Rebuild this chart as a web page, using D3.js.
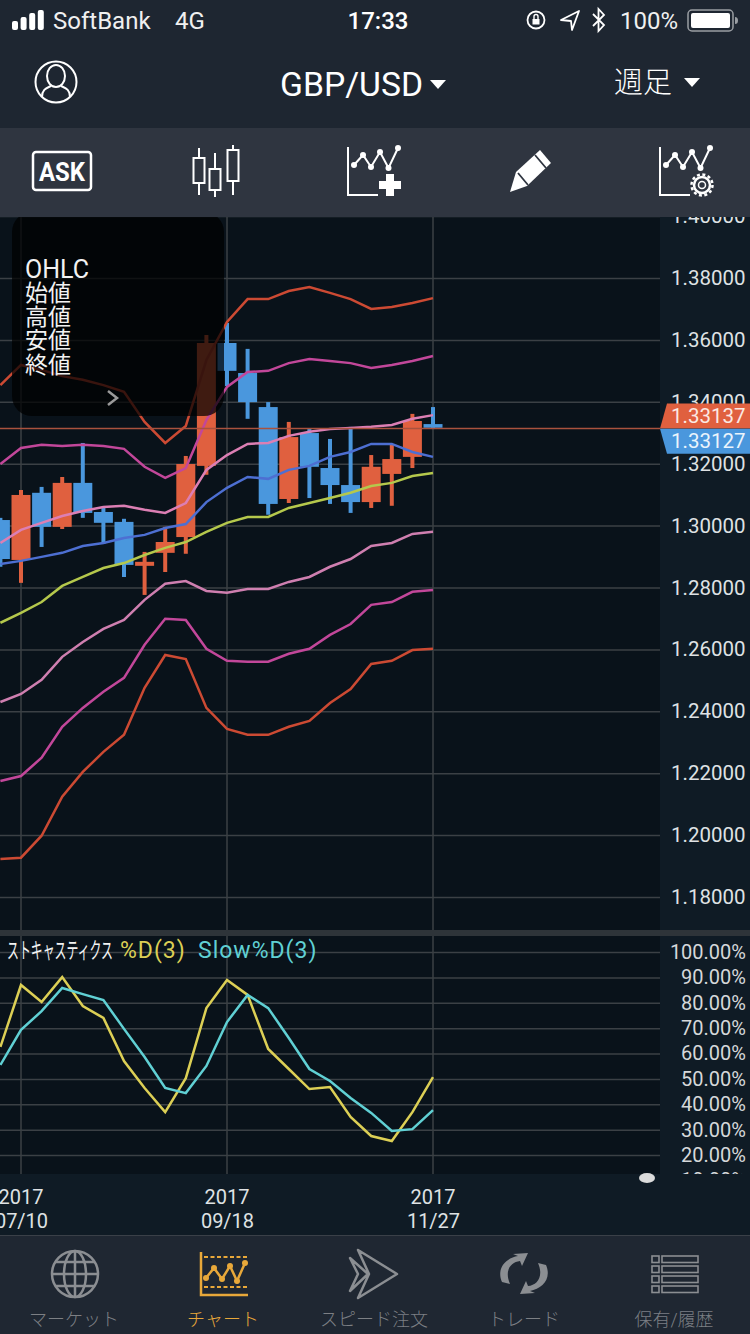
<!DOCTYPE html>
<html>
<head>
<meta charset="utf-8">
<script src="https://d3js.org/d3.v7.min.js"></script>
<style>
  html, body { margin: 0; padding: 0; background: #1f2732; }
  svg { display: block; }
  text { font-family: Roboto, "Noto Sans CJK JP", sans-serif; }
  .grid line { stroke: #3b4045; stroke-width: 1.5; }
</style>
</head>
<body>
<div id="chart"></div>
<script>
// weekly candles, orange = up, blue = down
var weeks = ["07/03","07/10","07/17","07/24","07/31","08/07","08/14","08/21","08/28","09/04","09/11","09/18","09/25","10/02","10/09","10/16","10/23","10/30","11/06","11/13","11/20","11/27"];
var open  = [1.3018,1.2889,1.3106,1.2996,1.3138,1.3044,1.3012,1.2870,1.2912,1.2963,1.3193,1.3590,1.3493,1.3383,1.3086,1.3299,1.3186,1.3131,1.3076,1.3167,1.3222,1.3328];
var high  = [1.3025,1.3115,1.3125,1.3157,1.3267,1.3057,1.3022,1.2915,1.2996,1.3225,1.3616,1.3655,1.3571,1.3399,1.3335,1.3312,1.3280,1.3319,1.3228,1.3261,1.3361,1.3383];
var low   = [1.2867,1.2815,1.2931,1.2989,1.3025,1.2941,1.2834,1.2776,1.2850,1.2909,1.3164,1.3451,1.3345,1.3035,1.3073,1.3089,1.3070,1.3041,1.3057,1.3064,1.3186,1.3312];
var close = [1.2892,1.3099,1.2996,1.3138,1.3041,1.3009,1.2873,1.2883,1.2947,1.3199,1.3590,1.3500,1.3399,1.3070,1.3286,1.3190,1.3131,1.3076,1.3190,1.3215,1.3338,1.3316];

var bandUp3 = [1.3454,1.3519,1.3503,1.3483,1.3471,1.3454,1.3432,1.3335,1.3267,1.3322,1.3535,1.3658,1.3732,1.3732,1.3758,1.3771,1.3752,1.3732,1.3700,1.3706,1.3719,1.3735];
var bandUp2 = [1.3199,1.3251,1.3261,1.3257,1.3261,1.3257,1.3248,1.3190,1.3154,1.3186,1.3341,1.3448,1.3496,1.3500,1.3525,1.3538,1.3532,1.3525,1.3509,1.3519,1.3532,1.3548];
var bandUp1 = [1.2944,1.2986,1.3009,1.3031,1.3047,1.3060,1.3064,1.3051,1.3041,1.3073,1.3180,1.3228,1.3264,1.3267,1.3290,1.3303,1.3312,1.3315,1.3319,1.3325,1.3345,1.3357];
var maFast  = [1.2876,1.2886,1.2899,1.2912,1.2934,1.2944,1.2960,1.2970,1.2992,1.3005,1.3076,1.3122,1.3157,1.3151,1.3180,1.3193,1.3222,1.3238,1.3264,1.3264,1.3238,1.3222];
var maSlow  = [1.2686,1.2718,1.2753,1.2805,1.2834,1.2863,1.2879,1.2905,1.2928,1.2947,1.2980,1.3009,1.3028,1.3028,1.3057,1.3073,1.3089,1.3106,1.3128,1.3138,1.3160,1.3170];
var bandLo1 = [1.2430,1.2456,1.2502,1.2576,1.2624,1.2666,1.2695,1.2760,1.2812,1.2821,1.2789,1.2783,1.2795,1.2795,1.2818,1.2834,1.2867,1.2892,1.2934,1.2944,1.2973,1.2980];
var bandLo2 = [1.2175,1.2191,1.2250,1.2350,1.2411,1.2463,1.2508,1.2615,1.2699,1.2695,1.2602,1.2563,1.2560,1.2560,1.2586,1.2602,1.2647,1.2682,1.2744,1.2753,1.2786,1.2792];
var bandLo3 = [1.1923,1.1927,1.1998,1.2124,1.2204,1.2269,1.2324,1.2476,1.2582,1.2569,1.2411,1.2343,1.2324,1.2324,1.2350,1.2369,1.2427,1.2472,1.2553,1.2563,1.2598,1.2602];

var stochD     = [62.6,87.0,80.3,90.1,78.7,74.0,57.0,46.4,36.9,50.3,77.9,89.0,83.1,61.8,53.9,46.0,46.8,35.0,27.5,25.5,36.9,50.7];
var stochSlowD = [55.5,69.3,76.7,85.8,83.4,81.1,69.7,58.6,46.4,44.4,55.1,72.4,83.1,77.9,66.1,53.9,49.2,42.5,36.6,29.5,30.2,37.7];

var priceTicks = [1.40,1.38,1.36,1.34,1.32,1.30,1.28,1.26,1.24,1.22,1.20,1.18];
var stochTicks = [100,90,80,70,60,50,40,30,20,10];
var dateTicks = ["07/10","09/18","11/27"];
var askPrice = 1.33137;
var bidPrice = 1.33127;

var svgWidth = 750;
var svgHeight = 1334;
var plotRight = 660;
var mainTop = 217, mainBottom = 930;
var subTop = 936, subBottom = 1174;

var svg = d3.select("#chart").append("svg").attr("width", svgWidth).attr("height", svgHeight);

var xScale = d3.scalePoint().domain(weeks).range([0.4, 433]);
var yPrice = d3.scaleLinear().domain([1.40, 1.18]).range([216.1, 897]);
var yStoch = d3.scaleLinear().domain([100, 10]).range([952, 1180.4]);

// backgrounds
svg.append("rect").attr("width", svgWidth).attr("height", svgHeight).attr("fill", "#1f2732");
svg.append("rect").attr("y", mainTop).attr("width", svgWidth).attr("height", subBottom - mainTop + 62).attr("fill", "#0f1b25");
svg.append("rect").attr("y", mainTop).attr("width", plotRight).attr("height", mainBottom - mainTop).attr("fill", "#09121a");
svg.append("rect").attr("y", subTop).attr("width", plotRight).attr("height", subBottom - subTop).attr("fill", "#09121a");

var defs = svg.append("defs");
defs.append("clipPath").attr("id", "mainClip").append("rect").attr("y", mainTop).attr("width", plotRight).attr("height", mainBottom - mainTop);
defs.append("clipPath").attr("id", "subClip").append("rect").attr("y", subTop).attr("width", plotRight).attr("height", subBottom - subTop);

// ---- main chart ----
var mainGroup = svg.append("g").attr("clip-path", "url(#mainClip)");

var gridMain = d3.axisLeft(yPrice).tickValues(priceTicks).tickSize(-plotRight).tickFormat("");
mainGroup.append("g").attr("class", "grid").call(gridMain)
  .call(g => g.select(".domain").remove())
  .call(g => g.selectAll("text").remove());

mainGroup.selectAll(".vgrid").data(dateTicks).enter().append("line")
  .attr("x1", d => xScale(d)).attr("x2", d => xScale(d))
  .attr("y1", mainTop).attr("y2", mainBottom)
  .attr("stroke", "#3b4045").attr("stroke-width", 1.5);

var upColor = "#e0603f";
var downColor = "#4a97dd";
var candles = weeks.map((w, i) => ({ week: w, o: open[i], h: high[i], l: low[i], c: close[i] }));

mainGroup.selectAll(".wick").data(candles).enter().append("line")
  .attr("x1", d => xScale(d.week)).attr("x2", d => xScale(d.week))
  .attr("y1", d => yPrice(d.h)).attr("y2", d => yPrice(d.l))
  .attr("stroke", d => d.c >= d.o ? upColor : downColor)
  .attr("stroke-width", 4);

mainGroup.selectAll(".body").data(candles).enter().append("rect")
  .attr("x", d => xScale(d.week) - 9.5)
  .attr("width", 19)
  .attr("y", d => yPrice(Math.max(d.o, d.c)))
  .attr("height", d => Math.abs(yPrice(d.o) - yPrice(d.c)))
  .attr("fill", d => d.c >= d.o ? upColor : downColor);

var mainLine = d3.line().x((d, i) => xScale(weeks[i])).y(d => yPrice(d));
var bandSeries = [
  [bandUp3, "#cc4a33"],
  [bandUp2, "#c2479a"],
  [bandUp1, "#dc7fb4"],
  [maFast, "#4d6fd2"],
  [maSlow, "#b5c84c"],
  [bandLo1, "#cf7fb0"],
  [bandLo2, "#c2479a"],
  [bandLo3, "#cc4a33"]
];
bandSeries.forEach(function(s) {
  mainGroup.append("path").attr("d", mainLine(s[0])).attr("fill", "none").attr("stroke", s[1]).attr("stroke-width", 2.5);
});

// price line
mainGroup.append("line")
  .attr("x1", 0).attr("x2", plotRight)
  .attr("y1", yPrice(askPrice)).attr("y2", yPrice(askPrice))
  .attr("stroke", "#a9523e").attr("stroke-width", 1.5);

// OHLC overlay
svg.append("rect").attr("x", 12).attr("y", 212).attr("width", 212).attr("height", 204).attr("rx", 20)
  .attr("fill", "#000").attr("fill-opacity", 0.72);
var ohlcLabels = ["OHLC", "始値", "高値", "安値", "終値"];
var ohlcY = [278, 301, 325, 348, 373];
svg.selectAll(".ohlc").data(ohlcLabels).enter().append("text")
  .attr("x", 25).attr("y", (d, i) => ohlcY[i])
  .attr("fill", "#f2f2f2").attr("font-size", (d, i) => i == 0 ? 25 : 23)
  .text(d => d);
svg.append("path").attr("d", "M108,391 L117,398 L108,405").attr("fill", "none").attr("stroke", "#9a9a9a").attr("stroke-width", 2.5);

// price axis labels
var axisRight = d3.axisRight(yPrice).tickValues(priceTicks).tickSize(0).tickPadding(0).tickFormat(d3.format(".5f"));
svg.append("g").attr("transform", "translate(671,0)").call(axisRight)
  .call(g => g.select(".domain").remove())
  .call(g => g.selectAll("text").attr("fill", "#dfe2e4").attr("font-size", 20.5).attr("font-family", "Roboto"));

// ask / bid tags
var askY = yPrice(askPrice), bidY = yPrice(bidPrice);
svg.append("path").attr("d", `M660,${askY} L667,${askY - 25} H750 V${askY} Z`).attr("fill", upColor);
svg.append("path").attr("d", `M660,${bidY} L667,${bidY + 25} H750 V${bidY} Z`).attr("fill", downColor);
svg.append("text").attr("x", 671).attr("y", askY - 5.5).attr("fill", "#fbe9e3").attr("font-size", 20.5).text(d3.format(".5f")(askPrice));
svg.append("text").attr("x", 671).attr("y", bidY + 19).attr("fill", "#eaf4fc").attr("font-size", 20.5).text(d3.format(".5f")(bidPrice));

// separator
svg.append("rect").attr("y", mainBottom).attr("width", svgWidth).attr("height", subTop - mainBottom).attr("fill", "#2e3439");

// ---- stochastics ----
var subGroup = svg.append("g").attr("clip-path", "url(#subClip)");
var gridSub = d3.axisLeft(yStoch).tickValues(stochTicks).tickSize(-plotRight).tickFormat("");
subGroup.append("g").attr("class", "grid").call(gridSub)
  .call(g => g.select(".domain").remove())
  .call(g => g.selectAll("text").remove());
subGroup.selectAll(".vgrid").data(dateTicks).enter().append("line")
  .attr("x1", d => xScale(d)).attr("x2", d => xScale(d))
  .attr("y1", subTop).attr("y2", subBottom)
  .attr("stroke", "#3b4045").attr("stroke-width", 1.5);

var subLine = d3.line().x((d, i) => xScale(weeks[i])).y(d => yStoch(d));
subGroup.append("path").attr("d", subLine(stochD)).attr("fill", "none").attr("stroke", "#dccf55").attr("stroke-width", 2.5);
subGroup.append("path").attr("d", subLine(stochSlowD)).attr("fill", "none").attr("stroke", "#60d0d4").attr("stroke-width", 2.5);

var axisStoch = d3.axisLeft(yStoch).tickValues(stochTicks).tickSize(0).tickPadding(0).tickFormat(d => d3.format(".2f")(d) + "%");
svg.append("g").attr("transform", "translate(746,0)").call(axisStoch)
  .call(g => g.select(".domain").remove())
  .call(g => g.selectAll("text").attr("fill", "#d5d8da").attr("font-size", 20).attr("font-family", "Roboto"));

svg.append("text").attr("x", 7).attr("y", 958).attr("fill", "#f2f2f2").attr("font-size", 22)
  .attr("textLength", 106).attr("lengthAdjust", "spacingAndGlyphs").text("ストキャスティクス");
svg.append("text").attr("x", 120).attr("y", 958).attr("fill", "#dccf55").attr("font-size", 23).attr("letter-spacing", 1).text("%D(3)");
svg.append("text").attr("x", 198).attr("y", 958).attr("fill", "#60d0d4").attr("font-size", 23).attr("letter-spacing", 1).text("Slow%D(3)");

// date axis
svg.append("rect").attr("y", subBottom).attr("width", svgWidth).attr("height", 61).attr("fill", "#0f1b25");
svg.append("ellipse").attr("cx", 647).attr("cy", 1178).attr("rx", 8).attr("ry", 5).attr("fill", "#dcdcdc");
var dateAxis = d3.axisBottom(xScale).tickValues(dateTicks).tickSize(0).tickPadding(0).tickFormat(d => d);
svg.append("g").attr("transform", "translate(0,1214)").call(dateAxis)
  .call(g => g.select(".domain").remove())
  .call(g => g.selectAll("text").attr("fill", "#dfe2e4").attr("font-size", 20).attr("font-family", "Roboto").attr("dy", "0.71em"));
svg.selectAll(".year").data(dateTicks).enter().append("text")
  .attr("x", d => xScale(d)).attr("y", 1204).attr("text-anchor", "middle")
  .attr("fill", "#dfe2e4").attr("font-size", 20).text("2017");

// ---- header ----
svg.append("rect").attr("width", svgWidth).attr("height", 128).attr("fill", "#1e2631");
svg.append("rect").attr("y", 128).attr("width", svgWidth).attr("height", 89).attr("fill", "#2f3540");

var white = "#ffffff";
var sig = [9, 13, 17, 20];
sig.forEach(function(h, i) {
  svg.append("rect").attr("x", 12 + i * 8.6).attr("y", 30 - h).attr("width", 6).attr("height", h).attr("rx", 2).attr("fill", white);
});
svg.append("text").attr("x", 53).attr("y", 29).attr("fill", "#f0f0f0").attr("font-size", 24).text("SoftBank");
svg.append("text").attr("x", 175).attr("y", 29).attr("fill", "#f0f0f0").attr("font-size", 24).text("4G");
svg.append("text").attr("x", 378).attr("y", 29).attr("text-anchor", "middle").attr("fill", white).attr("font-size", 24).attr("font-weight", 500).text("17:33");

// rotation lock, location, bluetooth
svg.append("circle").attr("cx", 536).attr("cy", 20).attr("r", 8.5).attr("fill", "none").attr("stroke", white).attr("stroke-width", 1.8);
svg.append("rect").attr("x", 532.5).attr("y", 19).attr("width", 7).attr("height", 5.5).attr("fill", white);
svg.append("path").attr("d", "M534,19 V16.5 a2,2 0 0 1 4,0 V19").attr("fill", "none").attr("stroke", white).attr("stroke-width", 1.4);
svg.append("path").attr("d", "M561,20 L579,11 L572,30 L571,21 Z").attr("fill", "none").attr("stroke", white).attr("stroke-width", 1.8).attr("stroke-linejoin", "round");
svg.append("path").attr("d", "M593,14 L604,25 L598.5,31 V9 L604,15 L593,26").attr("fill", "none").attr("stroke", white).attr("stroke-width", 1.8);
svg.append("text").attr("x", 620).attr("y", 29).attr("fill", "#f0f0f0").attr("font-size", 24).text("100%");
svg.append("rect").attr("x", 688).attr("y", 10).attr("width", 45).attr("height", 21).attr("rx", 4).attr("fill", "none").attr("stroke", "#9a9ea3").attr("stroke-width", 1.5);
svg.append("rect").attr("x", 691).attr("y", 13).attr("width", 39).attr("height", 15).attr("rx", 2).attr("fill", white);
svg.append("path").attr("d", "M735,17 a3,3.5 0 0 1 0,7 Z").attr("fill", "#9a9ea3");

// user icon
svg.append("circle").attr("cx", 56).attr("cy", 82).attr("r", 20.5).attr("fill", "none").attr("stroke", white).attr("stroke-width", 2);
svg.append("ellipse").attr("cx", 56).attr("cy", 76).attr("rx", 9).attr("ry", 11).attr("fill", "none").attr("stroke", white).attr("stroke-width", 2);
svg.append("path").attr("d", "M42,97 C42,89 47,88 51,86 M70,97 C70,89 65,88 61,86").attr("fill", "none").attr("stroke", white).attr("stroke-width", 2);

svg.append("text").attr("x", 280).attr("y", 96).attr("fill", white).attr("font-size", 33).attr("textLength", 143).attr("lengthAdjust", "spacingAndGlyphs").text("GBP/USD");
svg.append("path").attr("d", "M430,80 H446 L438,89 Z").attr("fill", white);
svg.append("text").attr("x", 614).attr("y", 93).attr("fill", white).attr("font-size", 29).attr("font-weight", 300).attr("font-family", "Noto Sans CJK JP").text("週足");
svg.append("path").attr("d", "M684,78 H700 L692,87 Z").attr("fill", white);

// toolbar icons
svg.append("rect").attr("x", 33).attr("y", 152).attr("width", 58).attr("height", 38).attr("rx", 3).attr("fill", "none").attr("stroke", white).attr("stroke-width", 2.5);
svg.append("text").attr("x", 62).attr("y", 181).attr("text-anchor", "middle").attr("fill", white).attr("font-size", 26).attr("font-weight", 700).attr("textLength", 46).attr("lengthAdjust", "spacingAndGlyphs").text("ASK");

var iconCandles = [[199, 148, 195, 158, 183], [215, 153, 197, 169, 190], [233, 145, 195, 150, 181]];
iconCandles.forEach(function(c) {
  svg.append("line").attr("x1", c[0]).attr("x2", c[0]).attr("y1", c[1]).attr("y2", c[2]).attr("stroke", white).attr("stroke-width", 2);
  svg.append("rect").attr("x", c[0] - 5.5).attr("y", c[3]).attr("width", 11).attr("height", c[4] - c[3]).attr("fill", "#2f3540").attr("stroke", white).attr("stroke-width", 2);
});

function lineChartIcon(dx) {
  var g = svg.append("g").attr("transform", `translate(${dx},0)`);
  g.append("path").attr("d", "M348,147 V195 H378").attr("fill", "none").attr("stroke", white).attr("stroke-width", 2);
  var pts = [[354, 165], [363, 155], [371, 167], [380, 152], [388.5, 168], [398, 148]];
  g.append("path").attr("d", d3.line()(pts)).attr("fill", "none").attr("stroke", white).attr("stroke-width", 2);
  pts.forEach(function(p) {
    g.append("circle").attr("cx", p[0]).attr("cy", p[1]).attr("r", 3).attr("fill", white);
  });
  return g;
}
lineChartIcon(0);
svg.append("path").attr("d", "M386,174 h8 v7 h7 v8 h-7 v7 h-8 v-7 h-7 v-8 h7 Z").attr("fill", white);

svg.append("path").attr("d", "M510,192 L516,172 L540,150 L551,163 L527,186 Z").attr("fill", white);
svg.append("path").attr("d", "M535,155 L546,168 M518,173 L528,185").attr("stroke", "#2f3540").attr("stroke-width", 1.8);

lineChartIcon(312);
svg.append("circle").attr("cx", 702).attr("cy", 185).attr("r", 8).attr("fill", "#2f3540").attr("stroke", white).attr("stroke-width", 2.5);
svg.append("circle").attr("cx", 702).attr("cy", 185).attr("r", 3.5).attr("fill", "none").attr("stroke", white).attr("stroke-width", 1.5);
svg.append("circle").attr("cx", 702).attr("cy", 185).attr("r", 10.5).attr("fill", "none").attr("stroke", white).attr("stroke-width", 2.5).attr("stroke-dasharray", "3 2.5");

// ---- tab bar ----
svg.append("rect").attr("y", 1235).attr("width", svgWidth).attr("height", 99).attr("fill", "#1f2732");
svg.append("line").attr("x1", 0).attr("x2", svgWidth).attr("y1", 1235.5).attr("y2", 1235.5).attr("stroke", "#3a4048");

var gray = "#8b8e92";
var orange = "#e8a83a";
var tabLabels = ["マーケット", "チャート", "スピード注文", "トレード", "保有/履歴"];
var tabX = [74, 223, 374, 524, 674];
svg.selectAll(".tab").data(tabLabels).enter().append("text")
  .attr("x", (d, i) => tabX[i]).attr("y", 1326).attr("text-anchor", "middle")
  .attr("font-family", "Noto Sans CJK JP").attr("font-weight", 300).attr("font-size", 18)
  .attr("fill", (d, i) => i == 1 ? orange : "#7c7f84")
  .text(d => d);

// globe
var globe = svg.append("g").attr("fill", "none").attr("stroke", gray).attr("stroke-width", 2.5);
globe.append("ellipse").attr("cx", 75).attr("cy", 1274).attr("rx", 23).attr("ry", 23);
globe.append("ellipse").attr("cx", 75).attr("cy", 1274).attr("rx", 11).attr("ry", 23);
globe.append("path").attr("d", "M75,1251 V1297 M52,1274 H98 M56,1262 H94 M56,1286 H94");

// active chart icon
var act = svg.append("g").attr("fill", "none").attr("stroke", orange).attr("stroke-width", 2.5);
act.append("path").attr("d", "M201,1252 V1295 H248");
act.append("path").attr("d", "M204,1257 H248 M204,1287 H248").attr("stroke-dasharray", "4 2.5").attr("stroke-width", 2);
var actPts = [[206, 1278], [214, 1268], [222, 1279], [230, 1266], [237, 1281], [245, 1263]];
act.append("path").attr("d", d3.line()(actPts));
actPts.forEach(function(p) {
  svg.append("circle").attr("cx", p[0]).attr("cy", p[1]).attr("r", 3).attr("fill", orange);
});

// speed order arrows
svg.append("path").attr("d", "M358,1250 L397,1274 L358,1298 L369,1274 Z M350,1258 L368,1274 L350,1291 L358,1274 Z")
  .attr("fill", "none").attr("stroke", gray).attr("stroke-width", 2.5).attr("stroke-linejoin", "round");

// trade cycle
svg.append("path").attr("d", "M502,1282 C496,1268 506,1258 518,1256 L513,1254 L528,1253 L522,1266 L520,1261 C511,1262 504,1270 510,1284 Z").attr("fill", gray);
svg.append("path").attr("d", "M546,1265 C552,1279 542,1289 530,1291 L535,1293 L520,1294 L526,1281 L528,1286 C537,1285 544,1277 538,1263 Z").attr("fill", gray);

// list
var rows = [1256, 1266, 1276, 1286];
rows.forEach(function(y) {
  svg.append("rect").attr("x", 652).attr("y", y).attr("width", 7).attr("height", 6.5).attr("fill", "none").attr("stroke", gray).attr("stroke-width", 1.6);
  svg.append("rect").attr("x", 662).attr("y", y).attr("width", 36).attr("height", 6.5).attr("fill", "none").attr("stroke", gray).attr("stroke-width", 1.6);
});
</script>
</body>
</html>
